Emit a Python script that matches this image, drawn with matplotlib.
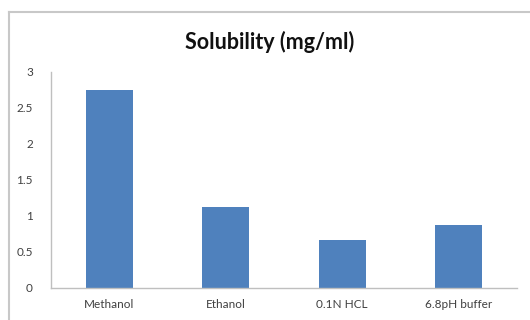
import matplotlib
matplotlib.use("Agg")
import matplotlib.pyplot as plt
from matplotlib.lines import Line2D

# solubility of the drug in each medium
solvents = ["Methanol", "Ethanol", "0.1N HCL", "6.8pH buffer"]
solubility = [2.75, 1.12, 0.67, 0.88]
yticks = [0, 0.5, 1, 1.5, 2, 2.5, 3]

plt.rcParams['font.family'] = ['Lato', 'DejaVu Sans']

fig = plt.figure(figsize=(5.3, 3.2), dpi=100)

# chart-area frame: only its top and left edges fall inside the image
fx, fy = 9 / 530, 1 - 12 / 320
fig.lines.append(Line2D([fx, 1.0], [fy, fy], transform=fig.transFigure,
                        color="#c8c8c8", linewidth=1.5))
fig.lines.append(Line2D([fx, fx], [0.0, fy], transform=fig.transFigure,
                        color="#c8c8c8", linewidth=1.5))

ax = fig.add_axes([51 / 530, 32 / 320, 466 / 530, 216 / 320])
x = range(len(solvents))
ax.bar(x, solubility, width=0.4, color="#4f81bd")

ax.set_xlim(-0.5, len(solvents) - 0.5)
ax.set_ylim(0, 3)
ax.set_yticks(yticks)
ax.set_yticklabels([f"{v:g}" for v in yticks])
ax.set_xticks(list(x))
ax.set_xticklabels(solvents)

for side in ("top", "right"):
    ax.spines[side].set_visible(False)
for side in ("left", "bottom"):
    ax.spines[side].set_color("#bfbfbf")
    ax.spines[side].set_linewidth(1.0)
ax.tick_params(axis="both", length=0, labelsize=8.5, labelcolor="#404040")
ax.tick_params(axis="y", pad=13)
ax.tick_params(axis="x", pad=8)

fig.text(270 / 530, 1 - 42 / 320, "Solubility (mg/ml)", ha="center", va="center",
         fontsize=15.5, fontweight="bold", color="#111111")

fig.savefig("out.png", dpi=100)
